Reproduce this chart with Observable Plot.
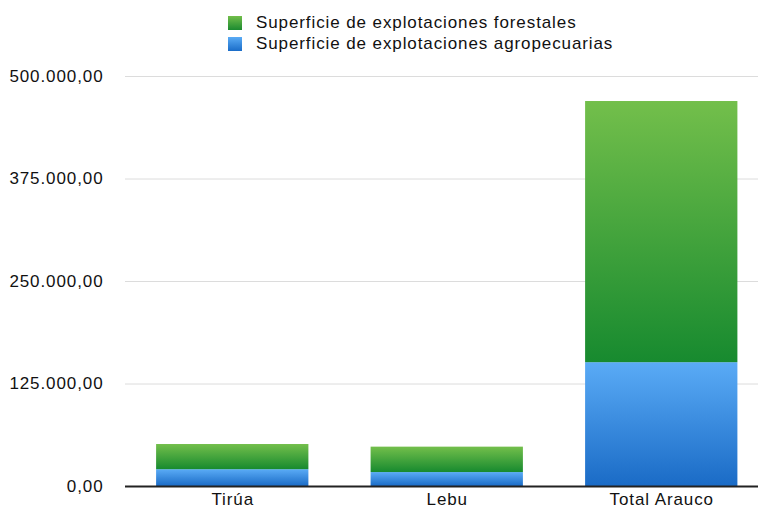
<!DOCTYPE html>
<html>
<head>
<meta charset="utf-8">
<script src="https://cdn.jsdelivr.net/npm/d3@7"></script>
<script src="https://cdn.jsdelivr.net/npm/@observablehq/plot@0.6"></script>
<style>
  body { margin: 0; background: #fff; font-family: "Liberation Sans", Arial, sans-serif; }
  #wrap { width: 758px; height: 509px; position: relative; overflow: hidden; }
  #legend { position: absolute; left: 228px; top: 12px; font-size: 17px; color: #111; letter-spacing: 0.9px; }
  .row { display: flex; align-items: center; height: 21px; }
  .sw { width: 14px; height: 14px; margin-right: 14px; }
  #chart { position: absolute; left: 0; top: 56px; }
</style>
</head>
<body>
<div id="wrap">
  <div id="legend"></div>
  <div id="chart"></div>
</div>
<script>
const categories = ["Tirúa", "Lebu", "Total Arauco"];
const agropecuarias = [20500, 17000, 151000];
const forestales = [30700, 31000, 318500];
const seriesNames = ["Superficie de explotaciones agropecuarias", "Superficie de explotaciones forestales"];
const yTicks = [0, 125000, 250000, 375000, 500000];

const locale = d3.formatLocale({decimal: ",", thousands: ".", grouping: [3], currency: ["", "€"]});
const fmt = locale.format(",.2f");

const data = [];
categories.forEach((c, i) => data.push({cat: c, series: seriesNames[0], value: agropecuarias[i]}));
categories.forEach((c, i) => data.push({cat: c, series: seriesNames[1], value: forestales[i]}));

// legend (forestales first, as in reference)
const legend = document.getElementById("legend");
[[seriesNames[1], "linear-gradient(#72be4a, #1b8a30)"], [seriesNames[0], "linear-gradient(#5aabf5, #1a6cc8)"]].forEach(([name, bg]) => {
  const row = document.createElement("div");
  row.className = "row";
  const sw = document.createElement("div");
  sw.className = "sw";
  sw.style.background = bg;
  row.appendChild(sw);
  row.appendChild(document.createTextNode(name));
  legend.appendChild(row);
});

const plot = Plot.plot({
  width: 758,
  height: 453,
  marginLeft: 125,
  marginRight: 0,
  marginTop: 20,
  marginBottom: 23,
  style: {fontFamily: "'Liberation Sans', Arial, sans-serif", fontSize: "17px", color: "#111", overflow: "visible", letterSpacing: "0.9px"},
  x: {domain: categories, range: [125, 768.5], paddingInner: 0.29, paddingOuter: 0.145, round: false, label: null, tickSize: 0, tickPadding: 6},
  y: {domain: [0, 500000], ticks: yTicks, tickFormat: fmt, label: null, tickSize: 0, tickPadding: 22},
  color: {domain: seriesNames, range: ["url(#gAgro)", "url(#gForest)"]},
  marks: [
    Plot.ruleY(yTicks.slice(1), {stroke: "#dcdcdc", strokeWidth: 1}),
    Plot.barY(data, {x: "cat", y: "value", fill: "series", order: seriesNames}),
    Plot.ruleY([0], {stroke: "#222", strokeWidth: 2}),
    Plot.axisX({tickSize: 0, tickPadding: 6, fontSize: 17}),
    Plot.axisY({ticks: yTicks, tickFormat: fmt, tickSize: 0, tickPadding: 22, fontSize: 17})
  ]
});

const defs = document.createElementNS("http://www.w3.org/2000/svg", "defs");
defs.innerHTML = `
  <linearGradient id="gForest" x1="0" y1="0" x2="0" y2="1">
    <stop offset="0" stop-color="#73bf4b"/>
    <stop offset="1" stop-color="#178a2f"/>
  </linearGradient>
  <linearGradient id="gAgro" x1="0" y1="0" x2="0" y2="1">
    <stop offset="0" stop-color="#5aabf6"/>
    <stop offset="1" stop-color="#1a6bc6"/>
  </linearGradient>`;
plot.insertBefore(defs, plot.firstChild);
document.getElementById("chart").appendChild(plot);
</script>
</body>
</html>
